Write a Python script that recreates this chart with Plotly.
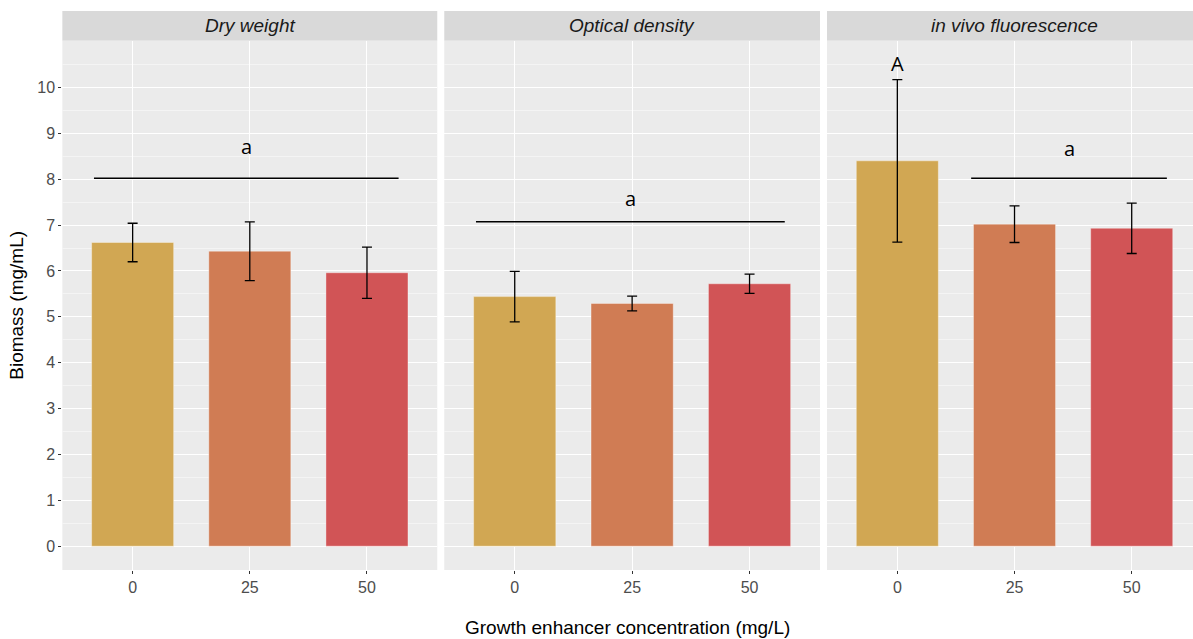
import plotly.graph_objects as go

# data
panels = ["Dry weight", "Optical density", "in vivo fluorescence"]
concentrations = ["0", "25", "50"]
bar_colors = ["#D1A753", "#D07C54", "#D15456"]

dry_weight = [6.62, 6.43, 5.96]
dry_weight_sd = [0.42, 0.64, 0.56]
optical_density = [5.44, 5.29, 5.72]
optical_density_sd = [0.55, 0.16, 0.21]
fluorescence = [8.40, 7.02, 6.93]
fluorescence_sd = [1.77, 0.40, 0.55]

# significance letters: bar-line y, line start/end (category units), letter, letter y
sig_line_y = [8.02, 7.07, 8.02]
sig_line_x0 = [-0.33, -0.33, 0.63]
sig_line_x1 = [2.27, 2.30, 2.30]
sig_letter = ["a", "a", "a"]
sig_letter_y = [8.72, 7.57, 8.66]
extra_letter = "A"
extra_letter_x = 0
extra_letter_y = 10.52

means = [dry_weight, optical_density, fluorescence]
sds = [dry_weight_sd, optical_density_sd, fluorescence_sd]

fig = go.Figure()

x_domains = [[0.0003, 0.3318], [0.338, 0.6702], [0.6764, 1.0]]
x_ranges = [[-0.6, 2.6], [-0.6, 2.6], [-0.6, 2.523]]
y_top = 0.9469

for i, name in enumerate(panels):
    xa = "x" if i == 0 else f"x{i+1}"
    fig.add_trace(go.Bar(
        x=[0, 1, 2], y=means[i], width=0.7,
        marker=dict(color=bar_colors, line=dict(color="rgba(255,255,255,0.35)", width=1)),
        error_y=dict(type="data", array=sds[i], color="black", thickness=1.3, width=5),
        xaxis=xa, yaxis="y", showlegend=False,
    ))
    fig.add_trace(go.Scatter(
        x=[sig_line_x0[i], sig_line_x1[i]], y=[sig_line_y[i]] * 2,
        mode="lines", line=dict(color="black", width=1.5),
        xaxis=xa, yaxis="y", showlegend=False, hoverinfo="skip",
    ))
    fig.add_annotation(
        x=(sig_line_x0[i] + sig_line_x1[i]) / 2, y=sig_letter_y[i],
        xref=xa, yref="y", text=sig_letter[i], showarrow=False,
        font=dict(family="Open Sans", size=20, color="black"),
    )
    # facet strip
    fig.add_shape(type="rect", xref="paper", yref="paper",
                  x0=x_domains[i][0], x1=x_domains[i][1], y0=y_top, y1=1.0,
                  fillcolor="#D9D9D9", line=dict(width=0), layer="below")
    strip_mid = x_domains[i][0] + 0.1658
    fig.add_annotation(
        x=strip_mid, y=(y_top + 1.0) / 2, xref="paper", yref="paper",
        xanchor="center", yanchor="middle",
        text=f"<i>{name}</i>", showarrow=False,
        font=dict(family="Liberation Sans", size=19, color="#1A1A1A"),
    )
    axis = dict(
        domain=x_domains[i], range=x_ranges[i], anchor="y",
        tickmode="array", tickvals=[0, 1, 2], ticktext=concentrations,
        showgrid=True, gridcolor="white", gridwidth=1.2,
        ticks="outside", ticklen=3, tickcolor="#333333",
        tickfont=dict(family="Liberation Sans", size=16, color="#4D4D4D"),
        zeroline=False, showline=False, fixedrange=True,
    )
    fig.update_layout({"xaxis" if i == 0 else f"xaxis{i+1}": axis})

fig.add_annotation(
    x=extra_letter_x, y=extra_letter_y, xref="x3", yref="y",
    text=extra_letter, showarrow=False,
    font=dict(family="Open Sans", size=20, color="black"),
)

# grey panel backgrounds
for d in x_domains:
    fig.add_shape(type="rect", xref="paper", yref="paper",
                  x0=d[0], x1=d[1], y0=0, y1=y_top,
                  fillcolor="#EBEBEB", line=dict(width=0), layer="below")

fig.update_layout(
    width=1193, height=639,
    margin=dict(l=62, r=0, t=11, b=69),
    paper_bgcolor="white", plot_bgcolor="rgba(0,0,0,0)",
    bargap=0.3,
    yaxis=dict(
        domain=[0, y_top], range=[-0.52, 11.02],
        tickmode="array", tickvals=list(range(0, 11)),
        showgrid=True, gridcolor="white", gridwidth=1.2,
        minor=dict(dtick=0.5, tick0=0, showgrid=True, gridcolor="#F4F4F4", gridwidth=0.7),
        ticks="outside", ticklen=3, tickcolor="#333333",
        tickfont=dict(family="Liberation Sans", size=16, color="#4D4D4D"),
        zeroline=False, showline=False, fixedrange=True,
        title=dict(text="Biomass (mg/mL)", standoff=8,
                   font=dict(family="Liberation Sans", size=19, color="black")),
    ),
)

fig.add_annotation(
    x=0.5, y=-0.102, xref="paper", yref="paper",
    xanchor="center", yanchor="middle",
    text="Growth enhancer concentration (mg/L)", showarrow=False,
    font=dict(family="Liberation Sans", size=19, color="black"),
)

fig.write_html("out.html", config={"displayModeBar": False},
               post_script="document.body.style.margin='0';")
